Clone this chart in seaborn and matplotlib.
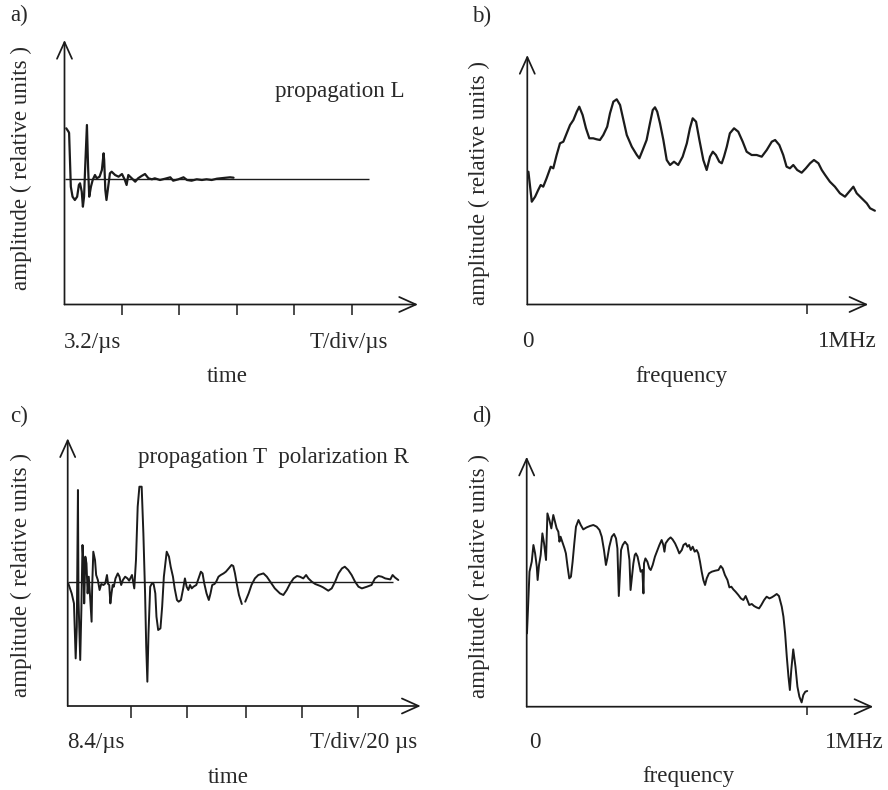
import matplotlib
matplotlib.use("Agg")
import matplotlib.pyplot as plt
import pandas as pd
import seaborn as sns

# ---------------------------------------------------------------------------
# Signals (time in screen divisions, frequency in MHz, amplitude in relative units)
# ---------------------------------------------------------------------------

# a) longitudinal propagation, time trace
time_a = [0.03, 0.07, 0.08, 0.11, 0.14, 0.18, 0.22, 0.25, 0.27, 0.30, 0.32, 0.34,
          0.36, 0.39, 0.41, 0.43, 0.46, 0.49, 0.53, 0.56, 0.61, 0.65, 0.68, 0.69,
          0.71, 0.73, 0.76, 0.79, 0.82, 0.88, 0.94, 1.00, 1.05, 1.08, 1.11, 1.17,
          1.23, 1.28, 1.34, 1.40, 1.46, 1.52, 1.57, 1.66, 1.75, 1.84, 1.89, 1.98,
          2.07, 2.13, 2.21, 2.30, 2.39, 2.47, 2.56, 2.65, 2.76, 2.88, 2.94]
amp_a = [5.02, 4.68, 4.55, -0.82, -1.82, -2.15, -1.82, -0.65, -0.48, -1.32, -2.82, -1.82,
         1.18, 5.35, 1.18, -1.82, -0.82, -0.15, 0.35, 0.02, 0.18, 0.85, 2.52, 1.85,
         -1.15, -2.15, -0.82, 0.52, 0.68, 0.35, 0.18, 0.45, -0.15, -0.65, 0.35, 0.02,
         -0.32, 0.02, 0.25, 0.45, 0.02, -0.08, 0.02, -0.15, -0.02, 0.12, -0.22, -0.08,
         0.12, -0.15, -0.22, -0.08, -0.15, -0.08, -0.15, -0.02, 0.05, 0.12, 0.08]
ticks_a = [1, 2, 3, 4, 5]

# b) spectrum of the longitudinal signal
freq_b = [0.004, 0.016, 0.028, 0.039, 0.048, 0.057, 0.069, 0.084, 0.093, 0.105, 0.117, 0.129,
          0.141, 0.153, 0.165, 0.177, 0.186, 0.198, 0.210, 0.222, 0.236, 0.248, 0.260, 0.272,
          0.286, 0.296, 0.308, 0.320, 0.332, 0.344, 0.356, 0.374, 0.392, 0.401, 0.413, 0.427,
          0.439, 0.449, 0.457, 0.465, 0.475, 0.487, 0.499, 0.511, 0.525, 0.540, 0.556, 0.571,
          0.582, 0.592, 0.604, 0.616, 0.630, 0.642, 0.654, 0.664, 0.675, 0.687, 0.696, 0.704,
          0.714, 0.725, 0.740, 0.755, 0.771, 0.785, 0.803, 0.821, 0.839, 0.857, 0.875, 0.887,
          0.902, 0.916, 0.928, 0.940, 0.952, 0.966, 0.982, 0.997, 1.012, 1.026, 1.042, 1.054,
          1.066, 1.083, 1.101, 1.119, 1.137, 1.152, 1.167, 1.179, 1.197, 1.215, 1.227, 1.244]
amp_b = [13.28, 10.28, 10.78, 11.45, 11.95, 11.78, 12.62, 13.78, 13.62, 14.95, 16.12, 16.28,
         17.12, 17.95, 18.45, 19.28, 19.78, 18.95, 17.62, 16.62, 16.62, 16.52, 16.45, 16.95,
         17.78, 19.12, 20.28, 20.52, 19.95, 18.45, 16.95, 15.78, 14.95, 14.62, 15.45, 16.45,
         18.12, 19.45, 19.72, 19.28, 18.12, 16.45, 14.45, 13.95, 14.28, 13.95, 14.78, 16.12,
         17.62, 18.62, 18.28, 16.45, 14.45, 13.45, 14.78, 15.28, 14.95, 14.28, 14.12, 14.78,
         15.78, 17.12, 17.62, 17.28, 16.28, 15.28, 14.95, 14.95, 14.78, 15.45, 16.28, 16.45,
         15.95, 14.95, 13.78, 13.62, 13.95, 13.45, 13.18, 13.62, 14.12, 14.45, 14.12, 13.45,
         12.95, 12.28, 11.78, 11.12, 10.78, 11.28, 11.78, 11.12, 10.62, 10.12, 9.62, 9.38]

# c) transverse propagation, radial polarization: two recorded stretches
time_c1 = [0.01, 0.07, 0.11, 0.14, 0.16, 0.18, 0.19, 0.22, 0.24, 0.26, 0.28, 0.29,
           0.31, 0.33, 0.35, 0.37, 0.39, 0.42, 0.43, 0.45, 0.48, 0.50, 0.53, 0.56,
           0.59, 0.63, 0.66, 0.69, 0.71, 0.73, 0.75, 0.77, 0.79, 0.81, 0.84, 0.88,
           0.91, 0.94, 0.97, 1.01, 1.05, 1.08, 1.13, 1.17, 1.20, 1.23, 1.26, 1.30,
           1.33, 1.36, 1.38, 1.40, 1.42, 1.45, 1.48, 1.51, 1.54, 1.56, 1.59, 1.63,
           1.66, 1.69, 1.74, 1.78, 1.81, 1.85, 1.88, 1.92, 1.95, 1.99, 2.03, 2.06,
           2.09, 2.12, 2.15, 2.18, 2.21, 2.26, 2.30, 2.34, 2.37, 2.40, 2.44, 2.48,
           2.51, 2.54, 2.58, 2.61, 2.65, 2.69, 2.74, 2.78, 2.83, 2.88, 2.91, 2.94,
           2.97, 3.01, 3.06]
amp_c1 = [-0.17, -1.17, -2.17, -7.67, -4.5, 9.17, -1.83, -7.83, -2.83, 3.67, 1.5, -2.17,
          2.5, 1.83, -1.17, 0.5, -1.17, -4.0, -0.5, 3.0, 2.17, 0.67, 0.17, -0.83,
          -0.23, -0.33, -0.17, 0.67, -0.23, -0.33, -2.17, -1.17, -0.33, -0.5, 0.33, 0.83,
          0.5, -0.33, 0.17, 0.5, 0.33, 0.1, 0.67, -0.67, 2.17, 7.5, 9.5, 9.5,
          4.83, -1.17, -6.5, -10.0, -5.17, -0.5, -0.17, -0.23, -1.17, -3.5, -4.83, -4.67,
          -2.5, 0.5, 3.0, 2.5, 1.5, 0.5, -0.67, -1.83, -2.0, -1.83, -0.67, 0.33,
          -0.5, -0.83, -0.33, -0.67, -0.5, -0.33, 0.33, 1.0, 0.83, -0.17, -1.17, -1.83,
          -1.17, -0.33, -0.23, 0.0, 0.5, 0.67, 0.83, 1.0, 1.33, 1.67, 1.57, 0.83,
          -0.17, -1.33, -2.23]
time_c2 = [3.12, 3.18, 3.23, 3.29, 3.35, 3.44, 3.50, 3.56, 3.64, 3.73, 3.79, 3.85,
           3.91, 3.97, 4.03, 4.08, 4.14, 4.19, 4.23, 4.29, 4.35, 4.44, 4.49, 4.58,
           4.64, 4.70, 4.76, 4.82, 4.87, 4.93, 4.99, 5.05, 5.11, 5.17, 5.26, 5.34,
           5.40, 5.46, 5.52, 5.58, 5.67, 5.71, 5.75, 5.81]
amp_c2 = [-2.0, -1.17, -0.33, 0.33, 0.67, 0.83, 0.5, 0.0, -0.67, -1.17, -1.33, -0.83,
          -0.17, 0.33, 0.57, 0.5, 0.33, 0.67, 0.33, 0.0, -0.23, -0.43, -0.57, -0.9,
          -0.67, 0.0, 0.83, 1.33, 1.5, 1.17, 0.67, 0.0, -0.5, -0.67, -0.5, -0.33,
          0.33, 0.57, 0.5, 0.33, 0.23, 0.67, 0.43, 0.17]
ticks_c = [1.11, 2.09, 3.13, 4.11, 5.11]

# d) spectrum of the transverse signal
freq_d = [0.001, 0.010, 0.018, 0.024, 0.030, 0.036, 0.039, 0.044, 0.050, 0.056, 0.062, 0.069,
          0.074, 0.081, 0.088, 0.095, 0.101, 0.107, 0.113, 0.117, 0.121, 0.129, 0.135, 0.140,
          0.146, 0.152, 0.158, 0.164, 0.170, 0.176, 0.185, 0.193, 0.202, 0.214, 0.226, 0.238,
          0.250, 0.260, 0.268, 0.276, 0.283, 0.288, 0.295, 0.304, 0.312, 0.319, 0.324, 0.329,
          0.333, 0.337, 0.343, 0.351, 0.360, 0.367, 0.371, 0.376, 0.381, 0.386, 0.390, 0.396,
          0.402, 0.407, 0.413, 0.417, 0.419, 0.424, 0.431, 0.438, 0.443, 0.450, 0.458, 0.467,
          0.474, 0.482, 0.488, 0.492, 0.496, 0.506, 0.514, 0.521, 0.530, 0.538, 0.545, 0.554,
          0.560, 0.568, 0.574, 0.580, 0.586, 0.593, 0.600, 0.607, 0.613, 0.619, 0.625, 0.631,
          0.637, 0.643, 0.651, 0.661, 0.673, 0.685, 0.693, 0.700, 0.708, 0.717, 0.724, 0.731,
          0.738, 0.746, 0.756, 0.765, 0.774, 0.782, 0.788, 0.795, 0.804, 0.812, 0.821, 0.830,
          0.838, 0.848, 0.857, 0.867, 0.875, 0.883, 0.893, 0.901, 0.911, 0.917, 0.923, 0.929,
          0.935, 0.940, 0.945, 0.952, 0.960, 0.967, 0.974, 0.982, 0.988, 0.995, 1.002]
amp_d = [7.33, 13.5, 14.5, 16.17, 15.33, 14.0, 12.67, 14.17, 15.17, 17.33, 16.33, 14.67,
         19.33, 18.67, 17.83, 19.17, 18.5, 17.83, 17.5, 16.5, 17.0, 16.33, 15.83, 15.33,
         14.0, 12.83, 13.0, 14.5, 16.33, 18.0, 18.67, 18.17, 17.73, 17.93, 18.07, 18.17,
         18.0, 17.67, 17.0, 15.67, 14.17, 14.83, 16.0, 17.0, 17.27, 16.83, 15.83, 11.07,
         13.33, 15.67, 16.17, 16.5, 16.17, 14.67, 11.67, 13.0, 14.33, 15.17, 15.33, 15.0,
         14.17, 13.5, 13.67, 11.33, 14.33, 14.83, 14.5, 13.83, 13.67, 14.17, 15.0, 15.67,
         16.17, 16.67, 16.17, 15.5, 16.33, 16.73, 16.93, 16.73, 16.33, 15.83, 15.33, 15.67,
         16.17, 16.33, 16.0, 16.17, 15.67, 16.0, 15.5, 15.67, 15.33, 14.5, 13.5, 12.67,
         12.17, 12.83, 13.33, 13.5, 13.6, 13.67, 14.07, 13.83, 13.17, 12.67, 11.93, 12.0,
         11.73, 11.5, 11.17, 10.83, 10.67, 11.07, 10.67, 10.17, 10.27, 10.07, 9.93, 9.83,
         10.17, 10.67, 11.0, 10.83, 10.93, 11.07, 11.27, 11.07, 10.0, 9.0, 7.33, 5.0,
         3.0, 1.67, 3.67, 5.73, 4.0, 2.0, 1.0, 0.43, 1.17, 1.5, 1.57]
ticks_freq = [1.0]

# ---------------------------------------------------------------------------
# Styling
# ---------------------------------------------------------------------------
sns.set_theme(style="white")
plt.rcParams["font.family"] = ["Liberation Serif", "DejaVu Serif"]

INK = "#1b1b1b"
TEXT = "#282828"
FS = 16.6
W, H = 888, 790

fig = plt.figure(figsize=(W / 100, H / 100), dpi=100)
fig.patch.set_facecolor("white")


def frame(left, top, right, bottom):
    return [left / W, 1 - bottom / H, (right - left) / W, (bottom - top) / H]


def label(x, y, s, ha="left", **kw):
    fig.text(x / W, 1 - y / H, s, ha=ha, va="baseline", fontsize=FS, color=TEXT, **kw)


def ylabel(x, y):
    fig.text(x / W, 1 - y / H, "amplitude ( relative units )", rotation=90,
             rotation_mode="anchor", ha="center", va="baseline", fontsize=FS, color=TEXT)


def make_axes(rect, xlim, ylim, ticks, tick_len):
    ax = fig.add_axes(rect)
    ax.set_xlim(*xlim)
    ax.set_ylim(*ylim)
    ax.patch.set_alpha(0)
    for s in ax.spines.values():
        s.set_visible(False)
    ax.set_yticks([])
    ax.set_xticks(ticks)
    ax.tick_params(axis="x", bottom=True, direction="out", length=tick_len, width=1.1,
                   color=INK, labelbottom=False)
    arrow = dict(arrowstyle="->,head_length=1.0,head_width=0.45", lw=1.25, color=INK,
                 shrinkA=0, shrinkB=0, clip_on=False)
    ax.annotate("", xy=(1, 0), xytext=(0, 0), xycoords="axes fraction",
                textcoords="axes fraction", arrowprops=arrow, annotation_clip=False)
    ax.annotate("", xy=(0, 1), xytext=(0, 0), xycoords="axes fraction",
                textcoords="axes fraction", arrowprops=arrow, annotation_clip=False)
    return ax


def trace(ax, df, lw, **kw):
    sns.lineplot(data=df, x="x", y="y", ax=ax, color=INK, lw=lw, sort=False,
                 estimator=None, legend=False, **kw)
    for ln in ax.lines:
        ln.set_clip_on(False)
    ax.set_xlabel("")
    ax.set_ylabel("")


# ---- a) time trace, longitudinal --------------------------------------------
ax_a = make_axes(frame(64.5, 40, 418, 304.5), (0, 6.148), (-12.6, 13.85), ticks_a, 7.5)
ax_a.hlines(0, 0, 5.30, color=INK, lw=1.0)
trace(ax_a, pd.DataFrame({"x": time_a, "y": amp_a}), 1.6)
label(10, 21.5, "a)")
label(275, 97, "propagation L")
label(64, 348, "3.2/\u00b5s")
label(310, 348, "T/div/\u00b5s")
label(227.7, 381.7, "time", ha="center")
ylabel(26.7, 168.3)

# ---- b) spectrum, longitudinal ----------------------------------------------
ax_b = make_axes(frame(527.3, 55, 868.3, 304.5), (0, 1.2205), (0, 24.95), ticks_freq, 6.5)
trace(ax_b, pd.DataFrame({"x": freq_b, "y": amp_b}), 1.6)
label(471.7, 21.7, "b)")
label(528.3, 346.7, "0", ha="center")
label(818.3, 346.7, "1MHz")
label(681.7, 381.7, "frequency", ha="center")
ylabel(485, 183.3)

# ---- c) time trace, transverse ----------------------------------------------
ax_c = make_axes(frame(67.7, 438.3, 420.7, 706), (0, 6.204), (-12.43, 14.34), ticks_c, 8.6)
ax_c.hlines(0, 0, 5.72, color=INK, lw=1.0)
df_c = pd.concat([
    pd.DataFrame({"x": time_c1, "y": amp_c1, "seg": 0}),
    pd.DataFrame({"x": time_c2, "y": amp_c2, "seg": 1}),
])
trace(ax_c, df_c, 1.4, units="seg")
label(10, 421.7, "c)")
label(138.3, 463.3, "propagation T  polarization R")
label(66.7, 748.3, "8.4/\u00b5s")
label(310, 748.3, "T/div/20\u00a0\u00b5s")
label(228.3, 783.3, "time", ha="center")
ylabel(26.7, 575)

# ---- d) spectrum, transverse ------------------------------------------------
ax_d = make_axes(frame(526.7, 456.7, 873.3, 706.7), (0, 1.238), (0, 25.0), ticks_freq, 6.0)
trace(ax_d, pd.DataFrame({"x": freq_d, "y": amp_d}), 1.4)
label(471.7, 421.7, "d)")
label(535, 748.3, "0", ha="center")
label(825, 748.3, "1MHz")
label(688.3, 781.7, "frequency", ha="center")
ylabel(485, 575.8)

fig.savefig("out.png", dpi=100, facecolor="white")
